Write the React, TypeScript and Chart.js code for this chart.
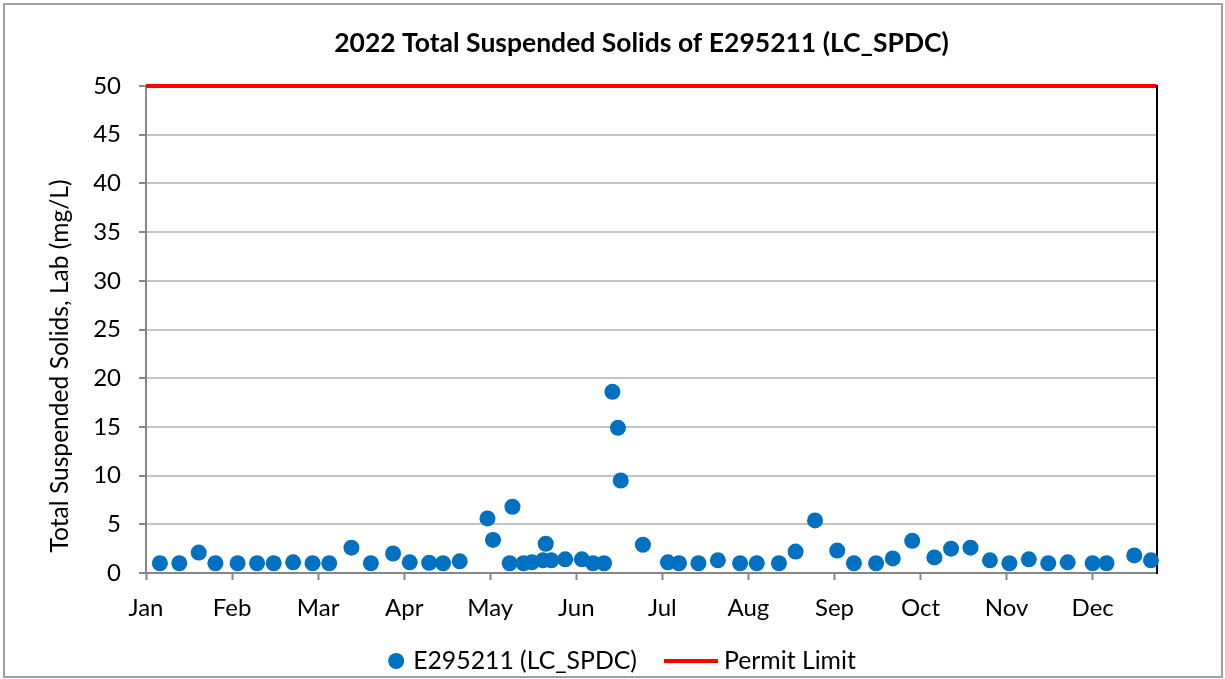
import React, { useEffect, useRef } from 'react';
import { Chart, registerables } from 'chart.js';

Chart.register(...registerables);

// ---------- data ----------
const TITLE = '2022 Total Suspended Solids of E295211 (LC_SPDC)';
const Y_TITLE = 'Total Suspended Solids, Lab (mg/L)';
const SERIES_LABEL = 'E295211 (LC_SPDC)';
const PERMIT_LABEL = 'Permit Limit';

const SAMPLE_DATES = [
  '2022-01-06', '2022-01-13', '2022-01-20', '2022-01-26', '2022-02-03', '2022-02-10',
  '2022-02-16', '2022-02-23', '2022-03-02', '2022-03-08', '2022-03-16', '2022-03-23',
  '2022-03-31', '2022-04-06', '2022-04-13', '2022-04-18', '2022-04-24', '2022-05-04',
  '2022-05-06', '2022-05-12', '2022-05-13', '2022-05-17', '2022-05-20', '2022-05-24',
  '2022-05-25', '2022-05-27', '2022-06-01', '2022-06-07', '2022-06-11', '2022-06-15',
  '2022-06-18', '2022-06-20', '2022-06-21', '2022-06-29', '2022-07-08', '2022-07-12',
  '2022-07-19', '2022-07-26', '2022-08-03', '2022-08-09', '2022-08-17', '2022-08-23',
  '2022-08-30', '2022-09-07', '2022-09-13', '2022-09-21', '2022-09-27', '2022-10-04',
  '2022-10-12', '2022-10-18', '2022-10-25', '2022-11-01', '2022-11-08', '2022-11-15',
  '2022-11-22', '2022-11-29', '2022-12-08', '2022-12-13', '2022-12-23', '2022-12-29',
];

const TSS_VALUES = [
  1, 1, 2.1, 1, 1, 1,
  1, 1.1, 1, 1, 2.6, 1,
  2.0, 1.1, 1.05, 1, 1.2, 5.6,
  3.4, 1, 6.8, 1, 1.1, 1.3,
  3.0, 1.3, 1.4, 1.4, 1, 1,
  18.6, 14.9, 9.5, 2.9, 1.1, 1,
  1, 1.3, 1, 1, 1, 2.2,
  5.4, 2.3, 1, 1, 1.5, 3.3,
  1.6, 2.5, 2.6, 1.3, 1, 1.4,
  1, 1.1, 1, 1, 1.8, 1.3,
];

const PERMIT_DATES = ['2022-01-01', '2022-12-31'];
const PERMIT_VALUES = [50, 50];

const X_TICK_DAYS = [0, 31, 62, 93, 124, 155, 186, 217, 248, 279, 310, 341];
const X_TICK_LABELS = ['Jan', 'Feb', 'Mar', 'Apr', 'May', 'Jun', 'Jul', 'Aug', 'Sep', 'Oct', 'Nov', 'Dec'];
const X_MIN_DATE = '2022-01-01';
const X_MAX_DATE = '2022-12-31';

const Y_MIN = 0;
const Y_MAX = 50;
const Y_STEP = 5;

// ---------- helpers ----------
function dayIndex(s: string): number {
  const [y, m, d] = s.split('-').map(Number);
  const [y0, m0, d0] = X_MIN_DATE.split('-').map(Number);
  return (Date.UTC(y, m - 1, d) - Date.UTC(y0, m0 - 1, d0)) / 86400000;
}

const FONT = 'Lato';
const TEXT = '#000000';

const decorPlugin = {
  id: 'decor',
  afterDraw(chart: any) {
    const ctx = chart.ctx as CanvasRenderingContext2D;
    ctx.save();
    ctx.fillStyle = TEXT;
    // chart title
    ctx.font = `bold 26.5px ${FONT}`;
    ctx.textAlign = 'center';
    ctx.textBaseline = 'middle';
    ctx.fillText(TITLE, 641.5, 43);

    // y axis title
    ctx.save();
    ctx.translate(60, 366);
    ctx.rotate(-Math.PI / 2);
    ctx.font = `24.6px ${FONT}`;
    ctx.fillText(Y_TITLE, 0, 0);
    ctx.restore();

    // legend
    const ds0 = chart.data.datasets[0];
    const ds1 = chart.data.datasets[1];
    ctx.font = `24.8px ${FONT}`;
    const w1 = ctx.measureText(ds0.label).width;
    const w2 = ctx.measureText(ds1.label).width;
    const dot = 16, gap1 = 9, gap2 = 27, lineLen = 54, gap3 = 6;
    const total = dot + gap1 + w1 + gap2 + lineLen + gap3 + w2;
    let x = 622 - total / 2;
    const y = 661;
    ctx.fillStyle = ds0.backgroundColor;
    ctx.beginPath();
    ctx.arc(x + dot / 2, y, dot / 2, 0, Math.PI * 2);
    ctx.fill();
    x += dot + gap1;
    ctx.fillStyle = TEXT;
    ctx.textAlign = 'left';
    ctx.fillText(ds0.label, x, y);
    x += w1 + gap2;
    ctx.strokeStyle = ds1.borderColor;
    ctx.lineWidth = ds1.borderWidth;
    ctx.beginPath();
    ctx.moveTo(x, y);
    ctx.lineTo(x + lineLen, y);
    ctx.stroke();
    x += lineLen + gap3;
    ctx.fillText(ds1.label, x, y);
    ctx.restore();
  },
};

export default function App() {
  const canvasRef = useRef<HTMLCanvasElement | null>(null);

  useEffect(() => {
    if (!canvasRef.current) return;
    Chart.defaults.font.family = FONT;
    Chart.defaults.color = TEXT;

    const chart = new Chart(canvasRef.current, {
      type: 'scatter',
      data: {
        datasets: [
          {
            type: 'scatter',
            label: SERIES_LABEL,
            data: SAMPLE_DATES.map((d, i) => ({ x: dayIndex(d), y: TSS_VALUES[i] })),
            backgroundColor: '#0070c0',
            borderColor: '#0070c0',
            borderWidth: 0,
            pointRadius: 8,
            clip: false,
          },
          {
            type: 'line',
            label: PERMIT_LABEL,
            data: PERMIT_DATES.map((d, i) => ({ x: dayIndex(d), y: PERMIT_VALUES[i] })),
            borderColor: '#ff0000',
            backgroundColor: '#ff0000',
            borderWidth: 4,
            pointRadius: 0,
            fill: false,
            clip: false,
          },
        ],
      } as any,
      options: {
        responsive: false,
        animation: false,
        devicePixelRatio: 1,
        events: [],
        layout: { padding: { left: 0, right: 68.5, top: 86, bottom: 0 } },
        plugins: {
          legend: { display: false },
          title: { display: false },
          tooltip: { enabled: false },
        },
        scales: {
          x: {
            type: 'linear',
            position: 'bottom',
            min: dayIndex(X_MIN_DATE),
            max: dayIndex(X_MAX_DATE),
            afterBuildTicks: (scale: any) => {
              scale.ticks = X_TICK_DAYS.map((v) => ({ value: v }));
            },
            afterFit: (scale: any) => {
              scale.height = 106;
            },
            ticks: {
              autoSkip: false,
              maxRotation: 0,
              padding: 14,
              font: { size: 24 },
              color: TEXT,
              callback: (v: any) => {
                const i = X_TICK_DAYS.indexOf(Number(v));
                return i >= 0 ? X_TICK_LABELS[i] : '';
              },
            },
            grid: {
              drawOnChartArea: false,
              drawTicks: true,
              tickLength: 7,
              tickColor: '#868686',
              tickWidth: 2,
            },
            border: { display: true, color: '#868686', width: 2 },
          },
          y: {
            type: 'linear',
            position: 'left',
            min: Y_MIN,
            max: Y_MAX,
            afterFit: (scale: any) => {
              scale.width = 146;
            },
            ticks: {
              stepSize: Y_STEP,
              padding: 18,
              font: { size: 24 },
              color: TEXT,
            },
            grid: {
              color: '#c4c4c4',
              lineWidth: 2,
              drawTicks: true,
              tickLength: 7,
              tickColor: '#868686',
              tickWidth: 2,
            },
            border: { display: true, color: '#868686', width: 2 },
          },
          y2: {
            type: 'linear',
            position: 'right',
            min: Y_MIN,
            max: Y_MAX,
            afterFit: (scale: any) => {
              scale.width = 0;
            },
            ticks: { display: false },
            grid: { drawOnChartArea: false, drawTicks: false },
            border: { display: true, color: '#000000', width: 2 },
          },
        },
      } as any,
      plugins: [decorPlugin],
    });

    return () => chart.destroy();
  }, []);

  return (
    <div style={{ position: 'absolute', left: 0, top: 0, width: 1225, height: 679, background: '#ffffff' }}>
      <canvas ref={canvasRef} width={1225} height={679} style={{ display: 'block' }} />
      <div
        style={{
          position: 'absolute',
          left: 3,
          top: 3,
          width: 1216,
          height: 671,
          border: '2px solid #a0a0a0',
          pointerEvents: 'none',
        }}
      />
    </div>
  );
}
